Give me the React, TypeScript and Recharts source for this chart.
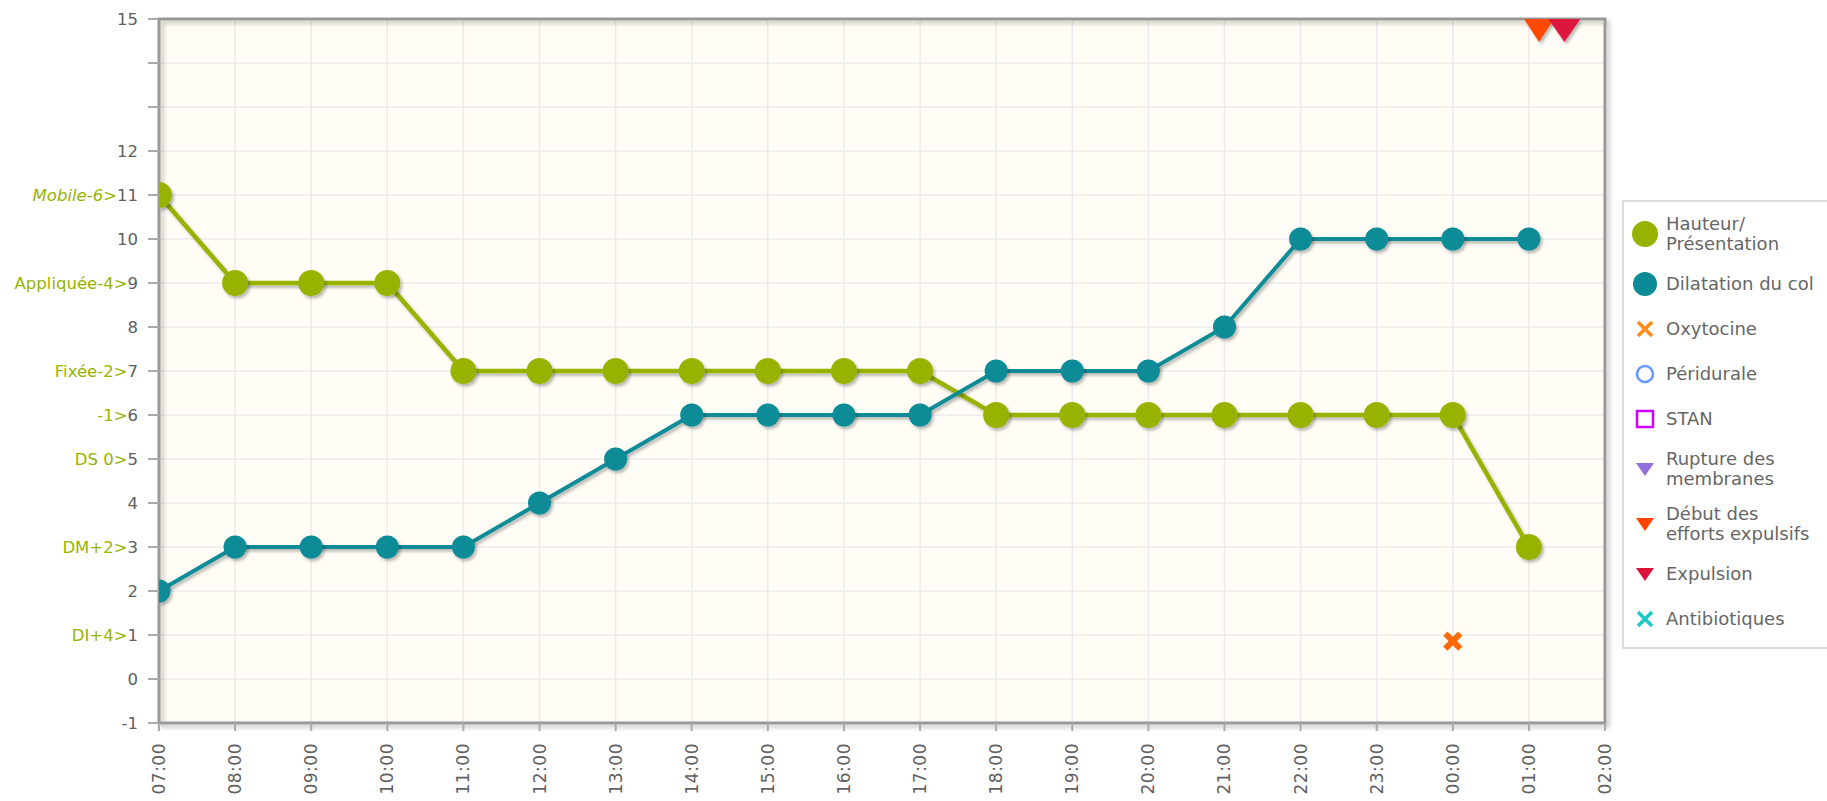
import React from "react";
import {
  ComposedChart,
  Line,
  Scatter,
  XAxis,
  YAxis,
  CartesianGrid,
  ReferenceArea,
} from "recharts";

// ---------- data ----------
const times = [
  "07:00", "08:00", "09:00", "10:00", "11:00", "12:00", "13:00", "14:00", "15:00", "16:00",
  "17:00", "18:00", "19:00", "20:00", "21:00", "22:00", "23:00", "00:00", "01:00",
];
const hauteur = [11, 9, 9, 9, 7, 7, 7, 7, 7, 7, 7, 6, 6, 6, 6, 6, 6, 6, 3];
const dilatation = [2, 3, 3, 3, 3, 4, 5, 6, 6, 6, 6, 7, 7, 7, 8, 10, 10, 10, 10];

const xTickLabels = [
  "07:00", "08:00", "09:00", "10:00", "11:00", "12:00", "13:00", "14:00", "15:00", "16:00",
  "17:00", "18:00", "19:00", "20:00", "21:00", "22:00", "23:00", "00:00", "01:00", "02:00",
];
const yTicks = [-1, 0, 1, 2, 3, 4, 5, 6, 7, 8, 9, 10, 11, 12, 13, 14, 15];
const yHiddenTicks = [13, 14];
const yPrefixValues = [11, 9, 7, 6, 5, 3, 1];
const yPrefixLabels = ["Mobile-6>", "Appliquée-4>", "Fixée-2>", "-1>", "DS 0>", "DM+2>", "DI+4>"];

const oxytocineTimes = ["00:00"];
const oxytocineValues = [0.86];
const debutTimes = ["01:08"];
const debutValues = [15];
const expulsionTimes = ["01:28"];
const expulsionValues = [15];

const legendNames = [
  "Hauteur/\nPrésentation",
  "Dilatation du col",
  "Oxytocine",
  "Péridurale",
  "STAN",
  "Rupture des\nmembranes",
  "Début des\nefforts expulsifs",
  "Expulsion",
  "Antibiotiques",
];

// ---------- helpers ----------
const START_HOUR = 7;
const toHours = (t: string) => {
  const [hh, mm] = t.split(":").map(Number);
  return ((hh - START_HOUR + 24) % 24) + mm / 60;
};

const chartData = times.map((t, i) => ({
  x: toHours(t),
  hauteur: hauteur[i],
  dilatation: dilatation[i],
}));
const oxyData = oxytocineTimes.map((t, i) => ({ x: toHours(t), y: oxytocineValues[i] }));
const debutData = debutTimes.map((t, i) => ({ x: toHours(t), y: debutValues[i] }));
const expulsionData = expulsionTimes.map((t, i) => ({ x: toHours(t), y: expulsionValues[i] }));
const xTicks = xTickLabels.map((_, i) => i);
const X_DOMAIN: [number, number] = [0, xTickLabels.length - 1];

// ---------- styles ----------
const GREEN = "#97B300";
const TEAL = "#0A8B97";
const ORANGE_X = "#FF6A00";
const DEBUT = "#FF4A00";
const EXPULSION = "#DC143C";
const FONT = "'DejaVu Sans', Verdana, sans-serif";
const AXIS_TEXT = "#606060";

const YTick = (props: any) => {
  const { x, y, payload } = props;
  const v = payload.value as number;
  if (yHiddenTicks.includes(v)) return null;
  const idx = yPrefixValues.indexOf(v);
  return (
    <text x={x} y={y} textAnchor="end" dominantBaseline="central" fontFamily={FONT} fontSize={16.5}>
      {idx >= 0 && (
        <tspan fill={GREEN} fontStyle={v === 11 ? "italic" : "normal"}>
          {yPrefixLabels[idx]}
        </tspan>
      )}
      <tspan fill={AXIS_TEXT}>{v}</tspan>
    </text>
  );
};

const XTick = (props: any) => {
  const { x, y, payload } = props;
  const label = xTickLabels[payload.value] ?? "";
  return (
    <text
      x={x}
      y={y}
      transform={`rotate(-90 ${x} ${y})`}
      textAnchor="end"
      dominantBaseline="central"
      fontFamily={FONT}
      fontSize={17}
      fill={AXIS_TEXT}
      letterSpacing={0.5}
    >
      {label}
    </text>
  );
};

// series markers drawn by a Scatter: a point on the left edge of the plot is cut in half
const SeriesDot = (color: string, r: number) => (p: any) => {
  const { cx, cy } = p;
  if (cx == null || cy == null) return <g />;
  const xv = p.payload?.x ?? p.node?.x;
  const onLeftEdge = xv != null && xv <= X_DOMAIN[0];
  if (onLeftEdge) {
    return (
      <path
        d={`M${cx},${cy - r} A${r},${r} 0 0 1 ${cx},${cy + r} Z`}
        fill={color}
        filter="url(#dropShadow)"
      />
    );
  }
  return <circle cx={cx} cy={cy} r={r} fill={color} filter="url(#dropShadow)" />;
};

const CrossShape = (color: string, size: number, width: number) => (p: any) => {
  const { cx, cy } = p;
  const h = size / 2;
  return (
    <g>
      <line x1={cx - h} y1={cy - h} x2={cx + h} y2={cy + h} stroke={color} strokeWidth={width} />
      <line x1={cx - h} y1={cy + h} x2={cx + h} y2={cy - h} stroke={color} strokeWidth={width} />
    </g>
  );
};

const DownTriangle = (color: string, w: number, h: number) => (p: any) => {
  const { cx, cy } = p;
  return (
    <path
      d={`M${cx - w / 2},${cy} L${cx + w / 2},${cy} L${cx},${cy + h} Z`}
      fill={color}
      filter="url(#dropShadow)"
    />
  );
};

const BorderShape = (p: any) => {
  const { x, y, width, height } = p;
  return (
    <rect
      x={x}
      y={y}
      width={width}
      height={height}
      fill="none"
      stroke="#999"
      strokeWidth={3}
      filter="url(#boxShadow)"
    />
  );
};

// ---------- legend ----------
const LegendIcon = ({ i }: { i: number }) => {
  const s = 30;
  const c = s / 2;
  let el: React.ReactNode = null;
  if (i === 0) el = <circle cx={c} cy={c} r={13} fill={GREEN} />;
  else if (i === 1) el = <circle cx={c} cy={c} r={12} fill={TEAL} />;
  else if (i === 2 || i === 8) {
    const col = i === 2 ? "#FF8C1A" : "#1EC8C8";
    el = (
      <g stroke={col} strokeWidth={3.5}>
        <line x1={c - 7} y1={c - 7} x2={c + 7} y2={c + 7} />
        <line x1={c - 7} y1={c + 7} x2={c + 7} y2={c - 7} />
      </g>
    );
  } else if (i === 3) el = <circle cx={c} cy={c} r={8} fill="none" stroke="#6699FF" strokeWidth={2.5} />;
  else if (i === 4) el = <rect x={c - 8} y={c - 8} width={16} height={16} fill="none" stroke="#CC00FF" strokeWidth={2.5} />;
  else {
    const col = i === 5 ? "#9370DB" : i === 6 ? "#FF4500" : EXPULSION;
    el = <path d={`M${c - 9},${c - 6} L${c + 9},${c - 6} L${c},${c + 7} Z`} fill={col} />;
  }
  return (
    <svg width={s} height={s} style={{ display: "block" }}>
      {el}
    </svg>
  );
};

const LegendBox = () => (
  <div
    style={{
      position: "absolute",
      left: 1622,
      top: 200,
      width: 230,
      border: "2px solid #dcdcdc",
      background: "#fff",
      padding: "4px 0 6px 0",
      fontFamily: FONT,
      fontSize: 18,
      color: "#666",
      boxSizing: "border-box",
    }}
  >
    {legendNames.map((name, i) => {
      const lines = name.split("\n");
      return (
        <div
          key={name}
          style={{
            display: "flex",
            alignItems: "center",
            padding: "7.5px 0",
          }}
        >
          <div style={{ width: 42, display: "flex", justifyContent: "center" }}>
            <LegendIcon i={i} />
          </div>
          <div style={{ lineHeight: "20px", whiteSpace: "nowrap" }}>
            {lines.map((l) => (
              <div key={l}>{l}</div>
            ))}
          </div>
        </div>
      );
    })}
  </div>
);

export default function App() {
  return (
    <div style={{ position: "absolute", left: 0, top: 0, width: 1827, height: 801, overflow: "hidden", background: "#fff" }}>
      <ComposedChart
        width={1827}
        height={801}
        data={chartData}
        margin={{ top: 19, right: 222, left: 9, bottom: 0 }}
      >
        <defs>
          <filter id="dropShadow" x="-50%" y="-50%" width="200%" height="200%">
            <feDropShadow dx="2" dy="2.5" stdDeviation="1.5" floodColor="#000" floodOpacity="0.28" />
          </filter>
          <filter id="boxShadow" x="-5%" y="-5%" width="110%" height="110%">
            <feDropShadow dx="3" dy="3" stdDeviation="2" floodColor="#000" floodOpacity="0.25" />
          </filter>
        </defs>
        <CartesianGrid stroke="#ebebeb" strokeWidth={1.5} fill="#FFFDF5" />
        <XAxis
          dataKey="x"
          type="number"
          domain={X_DOMAIN}
          ticks={xTicks}
          allowDataOverflow
          interval={0}
          height={78}
          axisLine={false}
          tickLine={{ stroke: "#aaa", strokeWidth: 2 }}
          tickSize={8}
          tickMargin={12}
          tick={<XTick />}
        />
        <YAxis
          type="number"
          domain={[-1, 15]}
          ticks={yTicks}
          allowDataOverflow
          interval={0}
          width={150}
          axisLine={false}
          tickLine={{ stroke: "#aaa", strokeWidth: 2 }}
          tickSize={11}
          tickMargin={10}
          tick={<YTick />}
        />
        <Line
          dataKey="hauteur"
          stroke={GREEN}
          strokeWidth={4.5}
          filter="url(#dropShadow)"
          dot={false}
          activeDot={false}
          isAnimationActive={false}
        />
        <Scatter data={chartData} dataKey="hauteur" shape={SeriesDot(GREEN, 13)} isAnimationActive={false} />
        <Line
          dataKey="dilatation"
          stroke={TEAL}
          strokeWidth={4}
          filter="url(#dropShadow)"
          dot={false}
          activeDot={false}
          isAnimationActive={false}
        />
        <Scatter data={chartData} dataKey="dilatation" shape={SeriesDot(TEAL, 11.5)} isAnimationActive={false} />
        <Scatter data={oxyData} dataKey="y" shape={CrossShape(ORANGE_X, 15, 6)} isAnimationActive={false} />
        <Scatter data={debutData} dataKey="y" shape={DownTriangle(DEBUT, 30, 23)} isAnimationActive={false} />
        <Scatter data={expulsionData} dataKey="y" shape={DownTriangle(EXPULSION, 32, 23)} isAnimationActive={false} />
        <ReferenceArea x1={X_DOMAIN[0]} x2={X_DOMAIN[1]} y1={-1} y2={15} shape={BorderShape} ifOverflow="visible" />
      </ComposedChart>
      <LegendBox />
    </div>
  );
}
